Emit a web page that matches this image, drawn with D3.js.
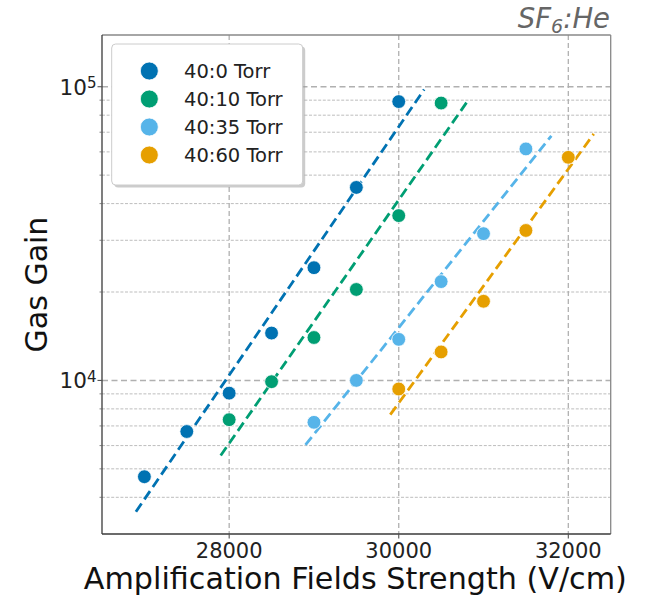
<!DOCTYPE html>
<html>
<head>
<meta charset="utf-8">
<script src="https://cdn.jsdelivr.net/npm/d3@7"></script>
<style>
  body { margin: 0; background: #fff; }
  text { font-family: "DejaVu Sans", sans-serif; }
</style>
</head>
<body>
<div id="gain"></div>
<script>
// gas gain vs amplification field, SF6:He mixtures
const seriesNames = ['40:0 Torr', '40:10 Torr', '40:35 Torr', '40:60 Torr'];
const seriesColors = ['#0072b2', '#009e73', '#56b4e9', '#e69f00'];

const fieldHe0 = [27000, 27500, 28000, 28500, 29000, 29500, 30000];
const gainHe0 = [4700, 6700, 9050, 14500, 24200, 45400, 89000];

const fieldHe10 = [28000, 28500, 29000, 29500, 30000, 30500];
const gainHe10 = [7350, 9900, 14000, 20400, 36400, 88000];

const fieldHe35 = [29000, 29500, 30000, 30500, 31000, 31500];
const gainHe35 = [7200, 10000, 13800, 21700, 31600, 61400];

const fieldHe60 = [30000, 30500, 31000, 31500, 32000];
const gainHe60 = [9350, 12500, 18600, 32400, 57500];

const xTicks = [28000, 30000, 32000];
const yMajor = [10000, 100000];

const fields = [fieldHe0, fieldHe10, fieldHe35, fieldHe60];
const gains = [gainHe0, gainHe10, gainHe35, gainHe60];

const width = 645;
const height = 599;
const pLeft = 102, pRight = 610.7, pTop = 35, pBottom = 534;

const svg = d3.select('#gain').append('svg').attr('width', width).attr('height', height);

const x = d3.scaleLinear().domain([26500, 32500]).range([pLeft, pRight]);
const y = d3.scaleLog().domain([3000, 150000]).range([pBottom, pTop]);

// grid
const isMajor = v => Math.abs(Math.log10(v) - Math.round(Math.log10(v))) < 1e-9;
const minor = y.ticks().filter(v => !isMajor(v) && v > 3000);

svg.append('g').selectAll('line').data(minor).enter().append('line')
  .attr('x1', pLeft).attr('x2', pRight)
  .attr('y1', d => y(d)).attr('y2', d => y(d))
  .attr('stroke', '#bdbdbd').attr('stroke-width', 1).attr('stroke-dasharray', '3,1.6');

svg.append('g').selectAll('line').data(yMajor).enter().append('line')
  .attr('x1', pLeft).attr('x2', pRight)
  .attr('y1', d => y(d)).attr('y2', d => y(d))
  .attr('stroke', '#b0b0b0').attr('stroke-width', 1.6).attr('stroke-dasharray', '6,3.5');

svg.append('g').selectAll('line').data(xTicks).enter().append('line')
  .attr('x1', d => x(d)).attr('x2', d => x(d))
  .attr('y1', pTop).attr('y2', pBottom)
  .attr('stroke', '#b0b0b0').attr('stroke-width', 1.3).attr('stroke-dasharray', '5,3');

// exponential fits (least squares on log10 gain)
function fit(xs, ys) {
  const ly = ys.map(v => Math.log10(v));
  const mx = d3.mean(xs), my = d3.mean(ly);
  let sxy = 0, sxx = 0;
  xs.forEach((v, i) => { sxy += (v - mx) * (ly[i] - my); sxx += (v - mx) * (v - mx); });
  const b = sxy / sxx;
  return v => Math.pow(10, my + b * (v - mx));
}

const line = d3.line().x(d => x(d[0])).y(d => y(d[1]));

fields.forEach(function (xs, i) {
  const f = fit(xs, gains[i]);
  const x0 = d3.min(xs) - 100, x1 = d3.max(xs) + 300;
  svg.append('path')
    .attr('d', line([[x0, f(x0)], [x1, f(x1)]]))
    .attr('fill', 'none')
    .attr('stroke', seriesColors[i])
    .attr('stroke-width', 2.8)
    .attr('stroke-dasharray', '10,5');
});

fields.forEach(function (xs, i) {
  svg.append('g').selectAll('circle').data(xs).enter().append('circle')
    .attr('cx', d => x(d))
    .attr('cy', (d, j) => y(gains[i][j]))
    .attr('r', 6.9)
    .attr('fill', seriesColors[i])
    .attr('stroke', '#fff').attr('stroke-width', 0.8);
});

// frame
svg.append('line').attr('x1', pLeft).attr('x2', pRight).attr('y1', pTop).attr('y2', pTop)
  .attr('stroke', '#888').attr('stroke-width', 1.3);
svg.append('line').attr('x1', pRight).attr('x2', pRight).attr('y1', pTop).attr('y2', pBottom)
  .attr('stroke', '#888').attr('stroke-width', 1.3);
svg.append('line').attr('x1', pLeft).attr('x2', pLeft).attr('y1', pTop).attr('y2', pBottom)
  .attr('stroke', '#3a3a3a').attr('stroke-width', 1.3);
svg.append('line').attr('x1', pLeft).attr('x2', pRight).attr('y1', pBottom).attr('y2', pBottom)
  .attr('stroke', '#3a3a3a').attr('stroke-width', 1.3);

// ticks
svg.append('g').selectAll('line').data(minor).enter().append('line')
  .attr('x1', pLeft - 2.5).attr('x2', pLeft)
  .attr('y1', d => y(d)).attr('y2', d => y(d))
  .attr('stroke', '#666').attr('stroke-width', 0.8);
svg.append('g').selectAll('line').data(yMajor).enter().append('line')
  .attr('x1', pLeft - 4.5).attr('x2', pLeft)
  .attr('y1', d => y(d)).attr('y2', d => y(d))
  .attr('stroke', '#555').attr('stroke-width', 1.1);
svg.append('g').selectAll('line').data(xTicks).enter().append('line')
  .attr('x1', d => x(d)).attr('x2', d => x(d))
  .attr('y1', pBottom).attr('y2', pBottom + 4.5)
  .attr('stroke', '#555').attr('stroke-width', 1.1);

// tick labels
svg.append('g').selectAll('text').data(xTicks).enter().append('text')
  .attr('x', d => x(d)).attr('y', 557.5)
  .attr('text-anchor', 'middle').attr('font-size', 21).attr('fill', '#222')
  .text(d => d);

const yl = svg.append('g').selectAll('text').data(yMajor).enter().append('text')
  .attr('x', 96.5).attr('y', d => y(d) + 7.8)
  .attr('text-anchor', 'end').attr('font-size', 21.5).attr('fill', '#222');
yl.append('tspan').text('10');
yl.append('tspan').attr('dy', -6.5).attr('font-size', 15).text(d => Math.round(Math.log10(d)));

// axis titles
svg.append('text').attr('x', (pLeft + pRight) / 2 - 1).attr('y', 589)
  .attr('text-anchor', 'middle').attr('font-size', 30.2).attr('fill', '#111')
  .text('Amplification Fields Strength (V/cm)');
svg.append('text').attr('transform', 'translate(47,' + (pTop + pBottom) / 2 + ') rotate(-90)')
  .attr('text-anchor', 'middle').attr('font-size', 30).attr('fill', '#111')
  .text('Gas Gain');

const title = svg.append('text').attr('x', 610).attr('y', 28)
  .attr('text-anchor', 'end').attr('font-size', 27.5).attr('font-style', 'italic').attr('fill', '#666');
title.append('tspan').text('SF');
title.append('tspan').attr('dy', 5).attr('font-size', 19).text('6');
title.append('tspan').attr('dy', -5).text(':He');

// legend
const lg = svg.append('g');
lg.append('rect').attr('x', 114.2).attr('y', 46.5).attr('width', 191).attr('height', 141)
  .attr('rx', 4).attr('fill', '#999').attr('opacity', 0.5);
lg.append('rect').attr('x', 111.7).attr('y', 44).attr('width', 191).attr('height', 141)
  .attr('rx', 4).attr('fill', '#fff').attr('stroke', '#ccc').attr('stroke-width', 1);

const items = lg.selectAll('g.item').data(seriesNames).enter().append('g')
  .attr('class', 'item')
  .attr('transform', (d, i) => 'translate(0,' + (71 + 28 * i) + ')');
items.append('circle').attr('cx', 149.3).attr('cy', 0).attr('r', 9)
  .attr('fill', (d, i) => seriesColors[i]).attr('stroke', '#fff').attr('stroke-width', 0.8);
items.append('text').attr('x', 184).attr('y', 7)
  .attr('font-size', 19.5).attr('fill', '#222').text(d => d);
</script>
</body>
</html>
